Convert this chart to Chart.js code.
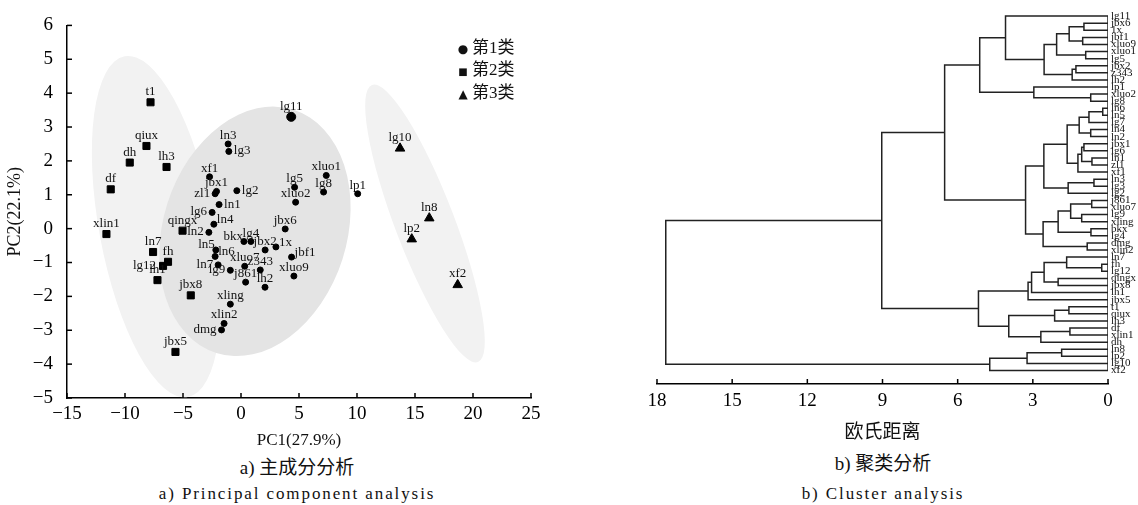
<!DOCTYPE html>
<html>
<head>
<meta charset="utf-8">
<script src="https://cdn.jsdelivr.net/npm/chart.js@4.4.1/dist/chart.umd.min.js"></script>
<style>
  body { margin:0; background:#fff; width:1138px; height:505px; overflow:hidden; position:relative;
         font-family:'Liberation Serif','Noto Sans CJK SC',serif; color:#111; }
  canvas { position:absolute; top:0; }
  #pca { left:0; }
  #tree { left:600px; }
  .cap { position:absolute; white-space:nowrap; line-height:1; transform:translate(-50%,-50%); }
  .zh { font-size:19px; }
  .en { font-size:17px; letter-spacing:1.9px; }
  .leg { position:absolute; left:456px; font-size:17px; line-height:1; transform:translateY(-50%); white-space:nowrap; }
  .leg b { display:inline-block; width:14px; text-align:center; font-family:'DejaVu Sans'; font-weight:normal; margin-right:2px; }
</style>
</head>
<body>
<canvas id="pca" width="580" height="455"></canvas>
<canvas id="tree" width="538" height="450"></canvas>

<div class="leg" style="top:47px"><b style="font-size:12px">●</b>第1类</div>
<div class="leg" style="top:69px"><b style="font-size:10px">■</b>第2类</div>
<div class="leg" style="top:92px"><b style="font-size:12px">▲</b>第3类</div>

<div class="cap zh" style="left:297px;top:467px">a) 主成分分析</div>
<div class="cap en" style="left:297px;top:493px">a) Principal component analysis</div>
<div class="cap zh" style="left:883px;top:463px">b) 聚类分析</div>
<div class="cap en" style="left:883px;top:493px">b) Cluster analysis</div>

<script>
// 主成分得分 —— 第1类
const g1Names = ['lg11','ln3','lg3','xf1','jbx1','zl1','lg2','ln1','lg6','ln4','ln2','lg5','xluo1','lg8','xluo2','lp1','jbx6',
                 'bkx','lg4','jbx2','1x','jbf1','xluo9','ln5','ln6','ln7','lg9','xluo7','z343','j861','lh2','xling','xlin2','dmg'];
const g1PC1 = [4.33,-1.11,-1.05,-2.71,-2.11,-2.23,-0.36,-1.89,-2.49,-2.34,-2.77,4.62,7.35,7.12,4.71,10.06,3.81,
               0.25,0.85,2.08,3.01,4.36,4.56,-2.17,-2.23,-1.97,-0.92,0.32,1.66,0.40,2.07,-0.92,-1.46,-1.68];
const g1PC2 = [3.30,2.50,2.28,1.53,1.10,1.03,1.12,0.71,0.48,0.13,-0.11,1.22,1.57,1.08,0.78,1.03,-0.01,
               -0.38,-0.38,-0.63,-0.54,-0.84,-1.40,-0.63,-0.82,-1.07,-1.23,-1.11,-1.22,-1.58,-1.73,-2.23,-2.80,-2.99];
const g1Tag = ['n','n','e','n','n','w','e','e','w','ne','w','n','n','n','n','n','n',
               'nw','n','n','ne','ne','n','nw','ne','w','w','n','n','n','n','n','n','w'];

// 第2类
const g2Names = ['t1','qiux','dh','lh3','df','xlin1','qingx','ln7','fh','lg12','lh1','jbx8','jbx5'];
const g2PC1 = [-7.80,-8.15,-9.59,-6.42,-11.23,-11.60,-5.04,-7.58,-6.29,-6.72,-7.20,-4.33,-5.65];
const g2PC2 = [3.73,2.44,1.95,1.82,1.16,-0.16,-0.06,-0.69,-0.98,-1.10,-1.52,-1.97,-3.64];
const g2Tag = ['n','n','n','n','n','n','n','n','n','w','n','n','n'];

// 第3类
const g3Names = ['lg10','ln8','lp2','xf2'];
const g3PC1 = [13.71,16.23,14.72,18.68];
const g3PC2 = [2.37,0.31,-0.31,-1.66];
const g3Tag = ['n','n','n','n'];

// 置信椭圆：中心、长轴端点、短长轴比
const ellCenter = [[-7.30,0.06],[15.86,0.15],[1.20,-0.08]];
const ellTip = [[-10.02,5.09],[11.29,4.24],[4.53,3.51]];
const ellRatio = [0.33,0.20,0.72];
const ellFill = ['#f2f2f2','#f2f2f2','#e4e4e4'];

// 聚类树
const treeLeaves = ['lg11','jbx6','1x','jbf1','xluo9','xluo1','lg5','jbx2','z343','lh2','lp1','xluo2','lg8',
  'ln6','ln5','lg7','ln4','ln2','jbx1','lg6','ln1','zl1','xf1','ln3','lg3','lg2','j861','xluo7','lg9','xling',
  'bkx','lg4','dmg','xlin2','ln7','fh','lg12','qingx','jbx8','lh1','jbx5','t1','qiux','lh3','df','xlin1','dh',
  'ln8','lp2','lg10','xf2'];
// [子节点A, 子节点B, 欧氏距离]；编号 >= 51 为前面的合并结果
const merges = [
  [1,2,0.96],[3,4,1.01],[51,52,1.55],[5,6,0.89],[53,54,2.05],[7,8,1.28],[56,9,1.43],[55,57,2.55],
  [0,58,4.09],[11,12,0.69],[10,60,2.96],[59,61,5.12],
  [13,14,0.21],[63,15,0.76],[16,17,0.69],[64,65,1.15],[18,19,0.96],[20,21,0.64],[67,68,1.05],[69,22,1.20],
  [66,70,1.63],[23,24,0.56],[72,25,1.59],[71,73,2.56],[26,27,0.65],[28,29,1.05],[75,76,1.49],[30,31,0.68],
  [77,78,1.99],[32,33,0.83],[79,80,2.59],[74,81,3.29],[62,82,6.52],
  [35,36,0.25],[34,84,1.65],[37,38,1.99],[85,86,2.55],[87,39,3.05],[88,40,3.19],
  [41,42,1.56],[90,43,2.13],[44,45,1.52],[92,46,2.68],[91,93,3.96],[89,94,5.17],[83,95,9.03],
  [47,48,1.85],[97,49,3.23],[98,50,4.72],[96,99,17.65]
];
const distTicks = [0,3,6,9,12,15,18];

const FONT = "'Liberation Serif','Noto Sans CJK SC',serif";
const minus = v => (v < 0 ? '\u2212' + Math.abs(v) : String(v));

const inwardTicks = {
  id: 'inwardTicks',
  afterDraw(chart, args, opts) {
    const ctx = chart.ctx;
    ctx.save();
    ctx.strokeStyle = '#000';
    ctx.lineWidth = 1.5;
    (opts.axes || []).forEach(id => {
      const s = chart.scales[id];
      s.ticks.forEach(t => {
        const p = s.getPixelForValue(t.value);
        ctx.beginPath();
        if (s.isHorizontal()) { ctx.moveTo(p, s.top); ctx.lineTo(p, s.top - 5); }
        else { ctx.moveTo(s.right, p); ctx.lineTo(s.right + 5, p); }
        ctx.stroke();
      });
    });
    ctx.restore();
  }
};

const ellipses = {
  id: 'ellipses',
  beforeDatasetsDraw(chart) {
    const {ctx, scales: {x, y}} = chart;
    ctx.save();
    ellCenter.forEach((c, i) => {
      const cx = x.getPixelForValue(c[0]), cy = y.getPixelForValue(c[1]);
      const tx = x.getPixelForValue(ellTip[i][0]), ty = y.getPixelForValue(ellTip[i][1]);
      const a = Math.hypot(tx - cx, ty - cy);
      ctx.beginPath();
      ctx.ellipse(cx, cy, a, a * ellRatio[i], Math.atan2(ty - cy, tx - cx), 0, Math.PI * 2);
      ctx.fillStyle = ellFill[i];
      ctx.fill();
    });
    ctx.restore();
  }
};

const pointNames = {
  id: 'pointNames',
  afterDatasetsDraw(chart) {
    const ctx = chart.ctx;
    ctx.save();
    ctx.font = "13px 'Liberation Serif'";
    ctx.fillStyle = '#111';
    chart.data.datasets.forEach((ds, di) => {
      chart.getDatasetMeta(di).data.forEach((pt, i) => {
        const r = pt.options.radius;
        const tag = ds.tags[i], name = ds.names[i];
        let x = pt.x, y = pt.y;
        ctx.textBaseline = 'alphabetic';
        if (tag === 'n') { ctx.textAlign = 'center'; y -= r + 2; }
        else if (tag === 'e') { ctx.textAlign = 'left'; x += r + 2; y += 3; }
        else if (tag === 'w') { ctx.textAlign = 'right'; x -= r + 2; y += 3; }
        else if (tag === 'ne') { ctx.textAlign = 'left'; x += r; y -= 1; }
        else if (tag === 'nw') { ctx.textAlign = 'right'; x -= 1; y -= 2; }
        ctx.fillText(name, x, y);
      });
    });
    ctx.restore();
  }
};

const toPts = (a, b) => a.map((v, i) => ({x: v, y: b[i]}));

new Chart(document.getElementById('pca'), {
  type: 'scatter',
  data: {
    datasets: [
      { label: '第1类', data: toPts(g1PC1, g1PC2), names: g1Names, tags: g1Tag, pointStyle: 'circle',
        radius: c => (g1Names[c.dataIndex] === 'lg11' ? 4.5 : 3) },
      { label: '第2类', data: toPts(g2PC1, g2PC2), names: g2Names, tags: g2Tag, pointStyle: 'rect', radius: 5 },
      { label: '第3类', data: toPts(g3PC1, g3PC2), names: g3Names, tags: g3Tag, pointStyle: 'triangle', radius: 5.5 }
    ].map(d => Object.assign(d, { backgroundColor: '#000', borderColor: '#000', borderWidth: 1 }))
  },
  options: {
    responsive: false,
    animation: false,
    events: [],
    layout: { padding: { top: 22, right: 49, left: 0, bottom: 0 } },
    plugins: {
      legend: { display: false },
      tooltip: { enabled: false },
      inwardTicks: { axes: ['x', 'y'] }
    },
    scales: {
      x: {
        type: 'linear', min: -15, max: 25,
        afterFit: s => { s.height = 57; },
        grid: { display: false, drawTicks: false },
        border: { display: true, color: '#000', width: 1.5 },
        ticks: { stepSize: 5, padding: 5, color: '#000', font: { family: FONT, size: 19 }, callback: minus },
        title: { display: true, text: 'PC1(27.9%)', color: '#111', font: { family: FONT, size: 17 }, padding: { top: 0, bottom: 4 } }
      },
      y: {
        type: 'linear', min: -5, max: 6,
        afterFit: s => { s.width = 67; },
        grid: { display: false, drawTicks: false },
        border: { display: true, color: '#000', width: 1.5 },
        ticks: { stepSize: 1, padding: 14, color: '#000', font: { family: FONT, size: 19 }, callback: minus },
        title: { display: true, text: 'PC2(22.1%)', color: '#111', font: { family: FONT, size: 18 }, padding: { top: 4, bottom: 0 } }
      }
    }
  },
  plugins: [ellipses, pointNames, inwardTicks]
});

// 聚类树线段
const nodeY = treeLeaves.map((_, i) => i);
const nodeH = treeLeaves.map(() => 0);
const treeSegs = [];
merges.forEach(([a, b, h]) => {
  treeSegs.push({x: nodeH[a], y: nodeY[a]}, {x: h, y: nodeY[a]}, {x: h, y: nodeY[b]}, {x: nodeH[b], y: nodeY[b]}, {x: null, y: null});
  nodeY.push((nodeY[a] + nodeY[b]) / 2);
  nodeH.push(h);
});
treeSegs.push({x: 0, y: 0}, {x: 0, y: treeLeaves.length - 1});

new Chart(document.getElementById('tree'), {
  type: 'line',
  data: {
    datasets: [{ data: treeSegs, borderColor: '#222', borderWidth: 1.5, pointRadius: 0, spanGaps: false, tension: 0, fill: false }]
  },
  options: {
    responsive: false,
    animation: false,
    events: [],
    layout: { padding: { left: 57, top: 0, right: 0, bottom: 0 } },
    plugins: { legend: { display: false }, tooltip: { enabled: false }, inwardTicks: { axes: ['x'] } },
    scales: {
      x: {
        type: 'linear', min: 0, max: 18, reverse: true,
        afterFit: s => { s.height = 66; },
        afterBuildTicks: s => { s.ticks = distTicks.map(v => ({ value: v })); },
        grid: { display: false, drawTicks: false },
        border: { display: true, color: '#000', width: 1.5 },
        ticks: { padding: 6, color: '#000', font: { family: FONT, size: 19 } },
        title: { display: true, text: '欧氏距离', color: '#111', font: { family: FONT, size: 19 }, padding: { top: 0, bottom: 6 } }
      },
      y: {
        type: 'linear', position: 'right', reverse: true, min: -0.92, max: 51.9,
        afterFit: s => { s.width = 30; },
        afterBuildTicks: s => { s.ticks = treeLeaves.map((_, i) => ({ value: i })); },
        grid: { display: false, drawTicks: false },
        border: { display: false },
        ticks: { autoSkip: false, padding: 3, color: '#111', font: { family: FONT, size: 11 },
                 callback: v => treeLeaves[v] }
      }
    }
  },
  plugins: [inwardTicks]
});
</script>
</body>
</html>
